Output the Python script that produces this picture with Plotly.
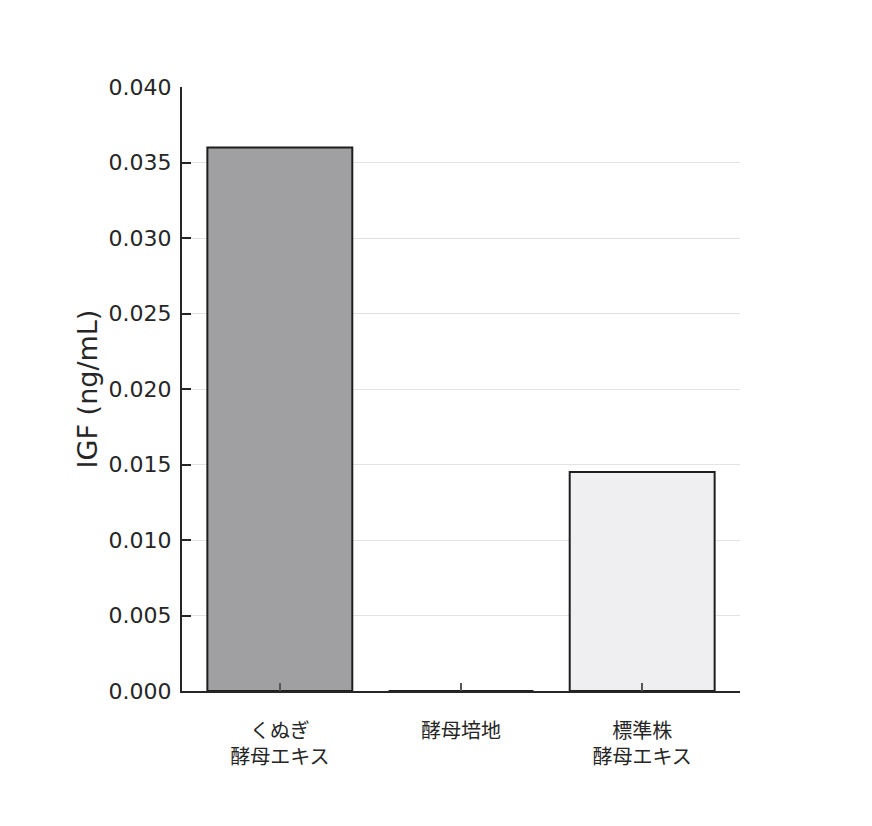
import plotly.graph_objects as go

# data
categories = ["くぬぎ<br>酵母エキス", "酵母培地", "標準株<br>酵母エキス"]
igf_values = [0.0360, 0.0, 0.0145]
bar_colors = ["#a09fa1", "#ffffff", "#efeef1"]
y_tickvals = [0.000, 0.005, 0.010, 0.015, 0.020, 0.025, 0.030, 0.035, 0.040]

fig = go.Figure()
fig.add_trace(go.Bar(
    x=categories,
    y=igf_values,
    marker=dict(color=bar_colors, line=dict(color="#1e1e1e", width=2)),
    width=0.8,
))

fig.update_layout(
    width=872,
    height=826,
    margin=dict(l=174, r=140, t=79, b=143),
    plot_bgcolor="white",
    paper_bgcolor="white",
    font=dict(family="DejaVu Sans, Noto Sans CJK JP", color="#262626"),
    showlegend=False,
    bargap=0.2,
)
fig.update_xaxes(
    range=[-0.54, 2.54],
    showline=True, linecolor="#262626", linewidth=2,
    ticks="inside", ticklen=8, tickwidth=1.5, tickcolor="#555555",
    tickfont=dict(size=20, family="Noto Sans CJK JP"),
    ticklabelstandoff=21,
    showgrid=False,
)
fig.update_yaxes(
    range=[0, 0.040],
    tickvals=y_tickvals,
    tickformat=".3f",
    showline=True, linecolor="#262626", linewidth=2,
    ticks="inside", ticklen=9, tickwidth=2, tickcolor="#262626",
    tickfont=dict(size=22),
    ticklabelstandoff=4,
    showgrid=True, gridcolor="#e3e3e6", gridwidth=1,
    zeroline=False,
    title=dict(text="IGF (ng/mL)", font=dict(size=27), standoff=3),
)

fig.write_html("out.html")
